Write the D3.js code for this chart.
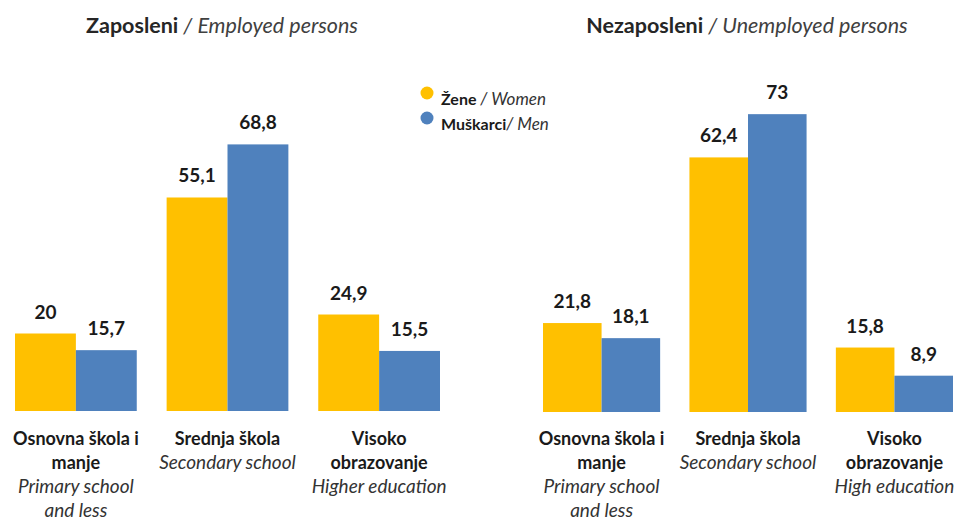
<!DOCTYPE html>
<html>
<head>
<meta charset="utf-8">
<script src="https://cdn.jsdelivr.net/npm/d3@7"></script>
<style>
  body { margin: 0; background: #fff; }
  svg { display: block; font-family: Lato, "Open Sans", sans-serif; }
</style>
</head>
<body>
<div id="chart"></div>
<script>
// data
var series = ["women", "men"];
var seriesLabelsSr = ["Žene", "Muškarci"];
var seriesLabelsEn = ["Women", "Men"];

var categories = ["osnovna", "srednja", "visoko"];
var catLinesSr = [["Osnovna škola i", "manje"], ["Srednja škola"], ["Visoko", "obrazovanje"]];
var catLinesEnEmployed = [["Primary school", "and less"], ["Secondary school"], ["Higher education"]];
var catLinesEnUnemployed = [["Primary school", "and less"], ["Secondary school"], ["High education"]];

var employedWomen = [20, 55.1, 24.9];
var employedMen = [15.7, 68.8, 15.5];
var unemployedWomen = [21.8, 62.4, 15.8];
var unemployedMen = [18.1, 73, 8.9];

var colors = { women: "#FFC000", men: "#4F81BD" };

var w = 958, h = 520;
var svg = d3.select("#chart").append("svg")
    .attr("width", w)
    .attr("height", h);

var fmt = function(v) { return String(v).replace(".", ","); };

function drawPanel(opts) {
    var g = svg.append("g");

    var x0 = d3.scaleBand()
        .domain(categories)
        .range([opts.left, opts.right])
        .paddingInner(opts.gap)
        .paddingOuter(0);

    var x1 = d3.scaleBand()
        .domain(series)
        .range([0, x0.bandwidth()]);

    var y = d3.scaleLinear()
        .domain([0, 80])
        .range([opts.base, opts.top]);

    var rows = categories.map(function(c, i) {
        return { cat: c, i: i, women: opts.women[i], men: opts.men[i] };
    });

    var groups = g.selectAll("g.grp")
        .data(rows)
        .enter().append("g")
        .attr("class", "grp")
        .attr("transform", function(d) { return "translate(" + x0(d.cat) + ",0)"; });

    groups.selectAll("rect")
        .data(function(d) { return series.map(function(s) { return { key: s, value: d[s] }; }); })
        .enter().append("rect")
        .attr("x", function(d) { return x1(d.key); })
        .attr("width", x1.bandwidth())
        .attr("y", function(d) { return y(d.value); })
        .attr("height", function(d) { return y(0) - y(d.value); })
        .attr("fill", function(d) { return colors[d.key]; });

    groups.selectAll("text.val")
        .data(function(d) { return series.map(function(s) { return { key: s, value: d[s] }; }); })
        .enter().append("text")
        .attr("class", "val")
        .attr("x", function(d) { return x1(d.key) + x1.bandwidth() / 2; })
        .attr("y", function(d) { return y(d.value) - 15; })
        .attr("text-anchor", "middle")
        .attr("font-size", 19)
        .attr("font-weight", "bold")
        .attr("fill", "#1a1a1a")
        .text(function(d) { return fmt(d.value); });

    // category labels
    groups.each(function(d) {
        var grp = d3.select(this);
        var cx = x0.bandwidth() / 2;
        var lines = catLinesSr[d.i].map(function(t) { return { t: t, it: false }; })
            .concat(opts.en[d.i].map(function(t) { return { t: t, it: true }; }));
        grp.selectAll("text.cat")
            .data(lines)
            .enter().append("text")
            .attr("class", "cat")
            .attr("x", cx)
            .attr("y", function(l, k) { return 445 + k * 24; })
            .attr("text-anchor", "middle")
            .attr("font-size", function(l) { return l.it ? 19 : 18; })
            .attr("font-weight", function(l) { return l.it ? "normal" : "bold"; })
            .attr("font-style", function(l) { return l.it ? "italic" : "normal"; })
            .attr("fill", function(l) { return l.it ? "#333" : "#1a1a1a"; })
            .text(function(l) { return l.t; });
    });

    // title
    var title = g.append("text")
        .attr("x", opts.titleX)
        .attr("y", 33)
        .attr("text-anchor", "middle")
        .attr("font-size", 21.5);
    title.append("tspan").attr("font-weight", "bold").attr("fill", "#262626").text(opts.titleSr);
    title.append("tspan").attr("font-style", "italic").attr("fill", "#404040").text(" / " + opts.titleEn);
}

drawPanel({
    left: 15, right: 440, gap: 0.197, base: 411, top: 101,
    women: employedWomen, men: employedMen, en: catLinesEnEmployed,
    titleX: 222, titleSr: "Zaposleni", titleEn: "Employed persons"
});

drawPanel({
    left: 543, right: 953, gap: 0.2, base: 412, top: 85.6,
    women: unemployedWomen, men: unemployedMen, en: catLinesEnUnemployed,
    titleX: 747, titleSr: "Nezaposleni", titleEn: "Unemployed persons"
});

// legend
var legend = svg.append("g").attr("transform", "translate(427,93)");
var li = legend.selectAll("g")
    .data(series)
    .enter().append("g")
    .attr("transform", function(d, i) { return "translate(0," + (i * 25) + ")"; });
li.append("circle")
    .attr("r", 6.5)
    .attr("fill", function(d) { return colors[d]; });
var lt = li.append("text")
    .attr("x", 14)
    .attr("y", 12)
    .attr("font-size", 16);
lt.append("tspan").attr("font-weight", "bold").attr("fill", "#1a1a1a")
    .text(function(d, i) { return seriesLabelsSr[i] + (i === 0 ? " " : ""); });
lt.append("tspan").attr("font-style", "italic").attr("fill", "#333").attr("font-size", 17)
    .text(function(d, i) { return "/ " + seriesLabelsEn[i]; });
</script>
</body>
</html>
